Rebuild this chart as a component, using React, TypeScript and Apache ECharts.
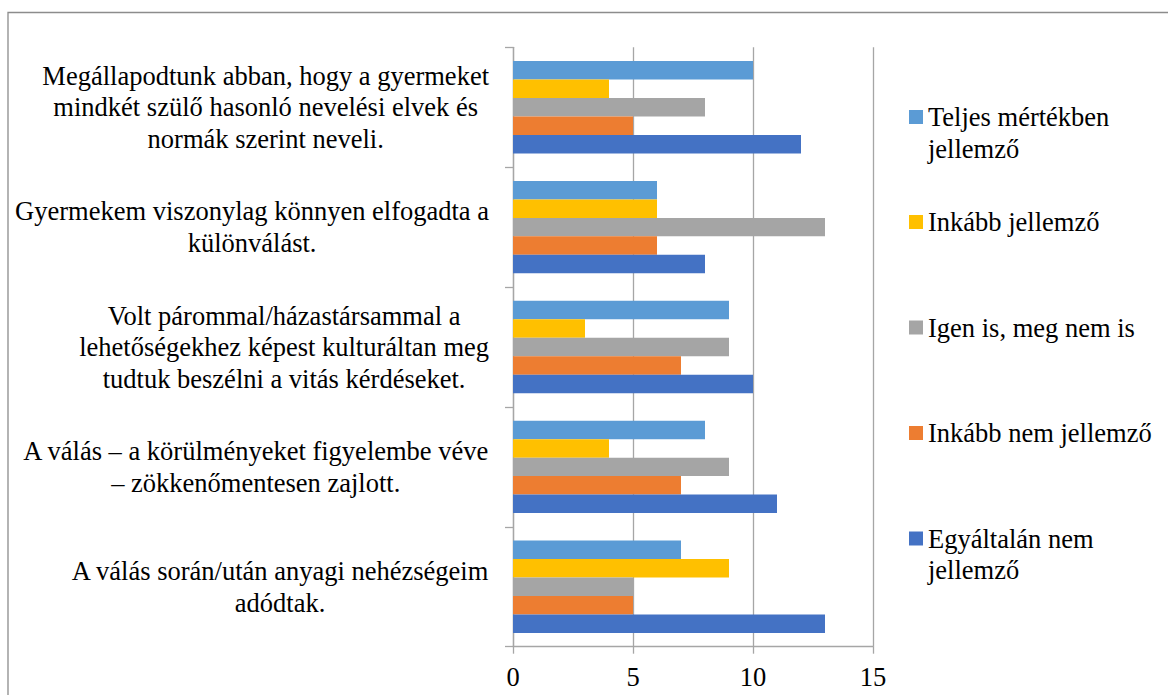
import React, { useEffect, useRef } from "react";
import * as echarts from "echarts";

// Categories, top to bottom as shown
const categories = [
  "Megállapodtunk abban, hogy a gyermeket\nmindkét szülő hasonló nevelési elvek és\nnormák szerint neveli.",
  "Gyermekem viszonylag könnyen elfogadta a\nkülönválást.",
  "Volt párommal/házastársammal a\nlehetőségekhez képest kulturáltan meg\ntudtuk beszélni a vitás kérdéseket.",
  "A válás – a körülményeket figyelembe véve\n– zökkenőmentesen zajlott.",
  "A válás során/után anyagi nehézségeim\nadódtak.",
];

const seriesNames = [
  "Teljes mértékben jellemző",
  "Inkább jellemző",
  "Igen is, meg nem is",
  "Inkább nem jellemző",
  "Egyáltalán nem jellemző",
];
const legendLabels = [
  "Teljes mértékben\njellemző",
  "Inkább jellemző",
  "Igen is, meg nem is",
  "Inkább nem jellemző",
  "Egyáltalán nem\njellemző",
];

const teljes = [10, 6, 9, 8, 7];
const inkabbJellemzo = [4, 6, 3, 4, 9];
const igenIs = [8, 13, 9, 9, 5];
const inkabbNem = [5, 6, 7, 7, 5];
const egyaltalan = [12, 8, 10, 11, 13];

const seriesValues = [teljes, inkabbJellemzo, igenIs, inkabbNem, egyaltalan];
const colors = ["#5B9BD5", "#FFC000", "#A5A5A5", "#ED7D31", "#4472C4"];

const xTicks = { min: 0, max: 15, interval: 5 };

const FONT = "Liberation Serif";
const FS = 26.5;
const LH = 31.5;

// legend first-line centre y positions
const legendCenters = [117, 222, 327.5, 433, 538.5];

export default function App() {
  const ref = useRef<HTMLDivElement>(null);
  useEffect(() => {
    document.body.style.margin = "0";
    if (!ref.current) return;
    const chart = echarts.init(ref.current, undefined, { renderer: "svg" });

    const textBase = { fontFamily: FONT, fontSize: FS, lineHeight: LH, color: "#000" };
    const richLines = (s: string) =>
      s
        .split("\n")
        .map((l) => `{c|${l}}`)
        .join("\n");

    const legends = seriesNames.map((name, i) => {
      const twoLine = legendLabels[i].includes("\n");
      return {
        show: true,
        orient: "vertical",
        left: 909,
        top: twoLine ? legendCenters[i] - LH * 1.5 : legendCenters[i] - LH / 2,
        padding: 0,
        itemWidth: 14,
        itemHeight: 14,
        icon: "rect",
        selectedMode: false,
        data: [name],
        // a leading empty line keeps the marker beside the first text line
        formatter: () => (twoLine ? "\n" : "") + richLines(legendLabels[i]),
        textStyle: { ...textBase, rich: { c: { ...textBase } } },
      };
    });

    chart.setOption({
      animation: false,
      color: colors,
      textStyle: { fontFamily: FONT },
      graphic: [
        {
          type: "rect",
          shape: { x: 8, y: 12.5, width: 1200, height: 720 },
          style: { fill: "none", stroke: "#8c8c8c", lineWidth: 1.3 },
          silent: true,
        },
      ],
      legend: legends,
      grid: { left: 513, right: 295, top: 47.3, height: 599.4, containLabel: false },
      xAxis: {
        type: "value",
        min: xTicks.min,
        max: xTicks.max,
        interval: xTicks.interval,
        axisLine: { show: true, lineStyle: { color: "#a6a6a6", width: 1.3 } },
        axisTick: { show: true, length: 7, lineStyle: { color: "#a6a6a6", width: 1.3 } },
        splitLine: { show: true, lineStyle: { color: "#a6a6a6", width: 1.3 } },
        axisLabel: { ...textBase, margin: 15 },
      },
      yAxis: {
        type: "category",
        data: categories,
        inverse: true,
        axisLine: { show: true, lineStyle: { color: "#a6a6a6", width: 1.3 } },
        axisTick: { show: true, length: 8, lineStyle: { color: "#a6a6a6", width: 1.3 } },
        splitLine: { show: false },
        axisLabel: {
          ...textBase,
          align: "right",
          margin: 24,
          formatter: (v: string) => richLines(v),
          rich: {
            c: { ...textBase, align: "center" },
          },
        },
      },
      series: seriesNames.map((name, i) => ({
        name,
        type: "bar",
        data: seriesValues[i],
        barGap: "0%",
        barCategoryGap: "23%",
        itemStyle: { color: colors[i] },
      })),
    });
    return () => chart.dispose();
  }, []);
  return <div ref={ref} style={{ width: 1168, height: 695 }} />;
}
